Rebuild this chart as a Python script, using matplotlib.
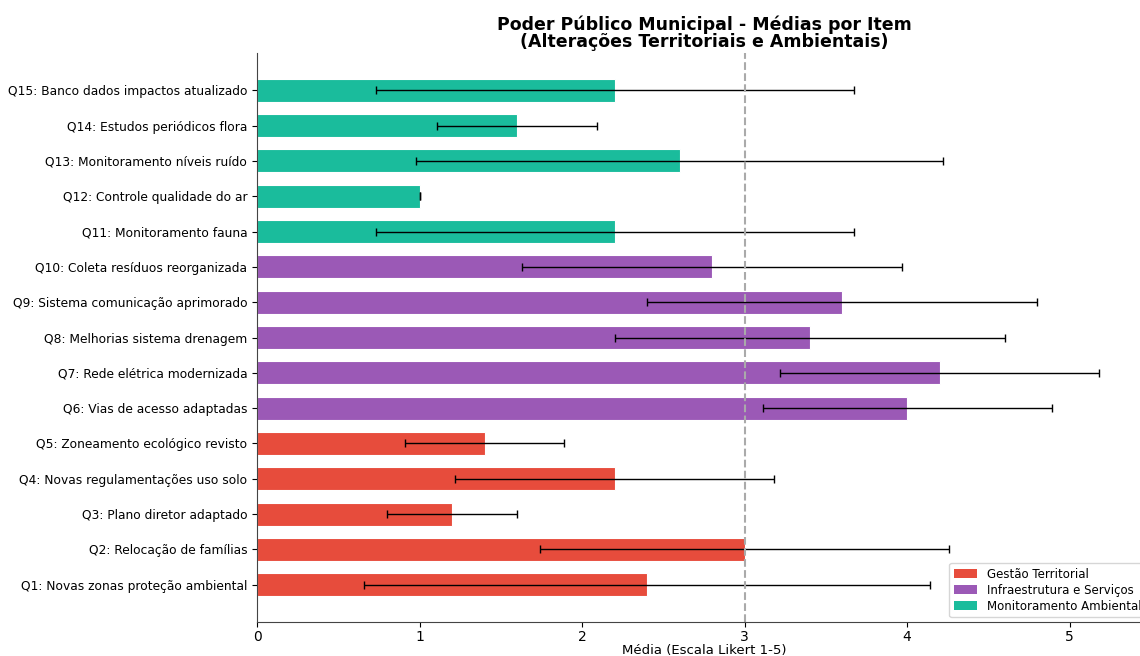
import matplotlib
matplotlib.use("Agg")
import matplotlib.pyplot as plt
from matplotlib.patches import Patch

# Item labels, bottom (Q1) to top (Q15)
items = [
    "Q1: Novas zonas proteção ambiental",
    "Q2: Relocação de famílias",
    "Q3: Plano diretor adaptado",
    "Q4: Novas regulamentações uso solo",
    "Q5: Zoneamento ecológico revisto",
    "Q6: Vias de acesso adaptadas",
    "Q7: Rede elétrica modernizada",
    "Q8: Melhorias sistema drenagem",
    "Q9: Sistema comunicação aprimorado",
    "Q10: Coleta resíduos reorganizada",
    "Q11: Monitoramento fauna",
    "Q12: Controle qualidade do ar",
    "Q13: Monitoramento níveis ruído",
    "Q14: Estudos periódicos flora",
    "Q15: Banco dados impactos atualizado",
]
means = [2.4, 3.0, 1.2, 2.2, 1.4, 4.0, 4.2, 3.4, 3.6, 2.8, 2.2, 1.0, 2.6, 1.6, 2.2]
stds = [1.74, 1.26, 0.40, 0.98, 0.49, 0.89, 0.98, 1.20, 1.20, 1.17, 1.47, 0.0, 1.62, 0.49, 1.47]
groups = ["Gestão Territorial"] * 5 + ["Infraestrutura e Serviços"] * 5 + ["Monitoramento Ambiental"] * 5

group_colors = {
    "Gestão Territorial": "#e74c3c",
    "Infraestrutura e Serviços": "#9b59b6",
    "Monitoramento Ambiental": "#1abc9c",
}


def main():
    fig = plt.figure(figsize=(11.4, 6.56), dpi=100)
    ax = fig.add_axes([257 / 1140, 34 / 656, 894 / 1140, 569 / 656])

    ypos = list(range(len(items)))
    colors = [group_colors[g] for g in groups]
    ax.barh(ypos, means, height=0.65, color=colors, edgecolor="white", linewidth=0.8)
    ax.errorbar(means, ypos, xerr=stds, fmt="none", ecolor="black",
                elinewidth=1, capsize=3)

    ax.axvline(3, color="#aaaaaa", linestyle="--", linewidth=1.5)

    ax.set_yticks(ypos)
    ax.set_yticklabels(items, fontsize=8.8)
    ax.set_xlim(0, 5.5)
    ax.set_xticks(range(6))
    ax.tick_params(axis="x", labelsize=10, pad=2)
    ax.set_xlabel("Média (Escala Likert 1-5)", fontsize=9.5, labelpad=0)
    ax.set_title("Poder Público Municipal - Médias por Item\n(Alterações Territoriais e Ambientais)",
                 fontsize=12.5, fontweight="bold", linespacing=0.95, pad=4)

    for side in ("top", "right"):
        ax.spines[side].set_visible(False)
    for side in ("left", "bottom"):
        ax.spines[side].set_color("#444444")

    handles = [Patch(facecolor=c, label=g) for g, c in group_colors.items()]
    ax.legend(handles=handles, loc="lower right", fontsize=8.5,
              handlelength=2, borderaxespad=0.4, labelspacing=0.25)

    fig.savefig("out.png", dpi=100)


if __name__ == "__main__":
    main()
